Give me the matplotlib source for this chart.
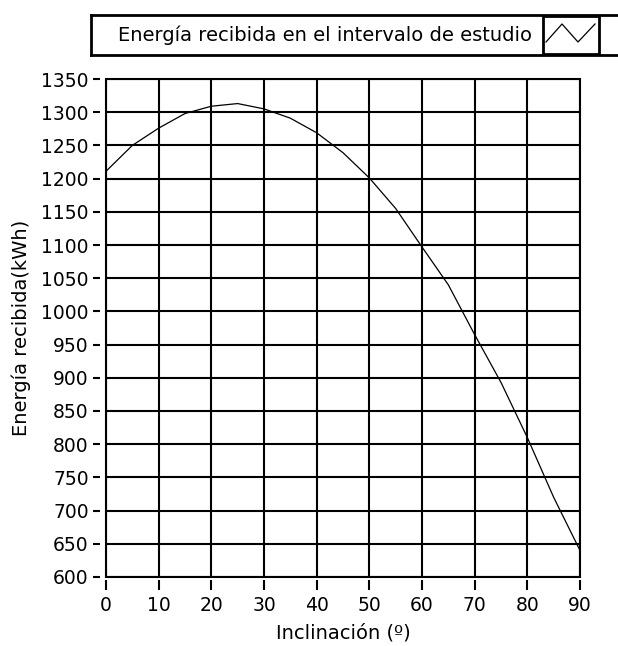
import numpy as np
import matplotlib
matplotlib.use("Agg")
import matplotlib.pyplot as plt
from matplotlib.patches import Rectangle

# Data
inclinacion = [0, 5, 10, 15, 20, 25, 30, 35, 40, 45, 50, 55, 60, 65, 70, 75, 80, 85, 90]
energia = [1211, 1250, 1276, 1298, 1309, 1313, 1305, 1291, 1269, 1239, 1201,
           1155, 1097, 1040, 965, 893, 810, 720, 640]

x_ticks = list(range(0, 91, 10))
y_ticks = list(range(600, 1351, 50))
legend_label = "Energía recibida en el intervalo de estudio"

W, H = 618, 646
plt.rcParams['font.family'] = 'DejaVu Sans'
fig = plt.figure(figsize=(W / 100, H / 100), dpi=100)

# main axes (pixel box 106..580 x 79..577)
ax = fig.add_axes([106 / W, 1 - 577 / H, (580 - 106) / W, (577 - 79) / H])
ax.plot(inclinacion, energia, color='black', lw=0.9)
ax.set_xlim(0, 90)
ax.set_ylim(600, 1350)
ax.set_xticks(x_ticks)
ax.set_yticks(y_ticks)
ax.grid(True, color='black', lw=1.5)
ax.set_axisbelow(True)

for s in ['top', 'right']:
    ax.spines[s].set_visible(False)
# ticks sit a little away from the frame
ax.spines['left'].set_position(('outward', 4.5))
ax.spines['bottom'].set_position(('outward', 2.5))
ax.spines['left'].set_visible(False)
ax.spines['bottom'].set_visible(False)
ax.add_patch(Rectangle((0, 0), 1, 1, transform=ax.transAxes, fill=False,
                       lw=1.5, ec='black', clip_on=False, zorder=3))

ax.tick_params(axis='y', direction='out', length=5, width=1.5, pad=3, labelsize=13.5)
ax.tick_params(axis='x', direction='out', length=7, width=1.5, pad=4, labelsize=13.5)
ax.set_xlabel("Inclinación (º)", fontsize=14, labelpad=6)
ax.set_ylabel("Energía recibida(kWh)", fontsize=14, labelpad=7)

# legend strip at the top
lg = fig.add_axes([91 / W, 1 - 55 / H, (W - 91 + 5) / W, 40 / H])
lg.set_xlim(91, W + 5)
lg.set_ylim(55, 15)
lg.set_xticks([])
lg.set_yticks([])
for s in lg.spines.values():
    s.set_linewidth(2)
lg.text(118, 35, legend_label, fontsize=14, va='center', ha='left')
lg.add_patch(Rectangle((543, 16), 56, 38, fill=False, ec='black', lw=2))
lg.plot([546, 562, 578, 595], [42, 24, 42, 24], color='black', lw=0.9)

fig.savefig("out.png", dpi=100)
